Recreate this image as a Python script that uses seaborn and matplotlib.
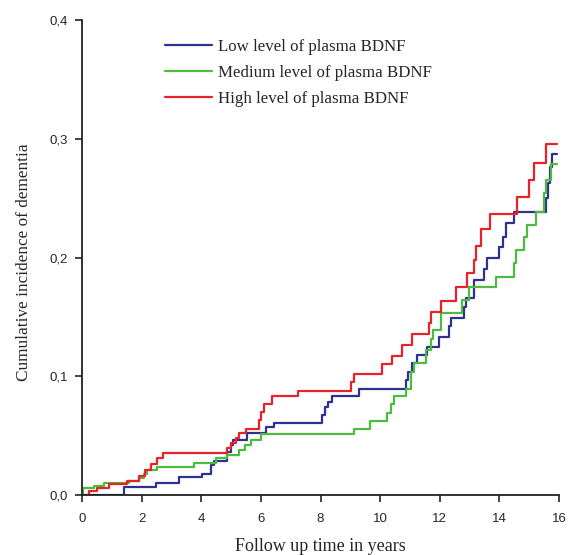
"""Cumulative incidence of dementia by plasma BDNF level (step curves)."""
import numpy as np
import pandas as pd
import matplotlib
matplotlib.use("Agg")
import matplotlib.pyplot as plt
from matplotlib.ticker import FuncFormatter
import seaborn as sns

sns.set_style("ticks")
plt.rcParams["font.family"] = ["Liberation Sans", "DejaVu Sans"]

# event times (years) and cumulative incidence after each event
low_t = [0, 1.41, 2.48, 3.25, 4.03, 4.33, 4.43, 4.87, 5.0, 5.07, 5.54, 6.17, 6.44,
         8.05, 8.15, 8.26, 8.39, 9.3, 10.87, 10.94, 11.07, 11.24, 11.58, 11.98,
         12.32, 12.38, 12.82, 12.89, 13.15, 13.49, 13.59, 13.99, 14.13, 14.23,
         14.5, 15.57, 15.64, 15.7, 15.77, 15.94]
low_y = [0, 0.007, 0.010, 0.015, 0.018, 0.025, 0.029, 0.036, 0.042, 0.046, 0.052,
         0.057, 0.061, 0.067, 0.074, 0.078, 0.083, 0.089, 0.097, 0.104, 0.111,
         0.118, 0.125, 0.133, 0.142, 0.149, 0.158, 0.166, 0.181, 0.190, 0.200,
         0.209, 0.217, 0.229, 0.238, 0.250, 0.263, 0.276, 0.287, 0.287]

med_t = [0, 0.03, 0.4, 0.74, 1.58, 1.91, 2.08, 2.18, 2.52, 3.76, 4.5, 4.85, 5.27,
         5.47, 5.67, 6.0, 9.13, 9.66, 10.23, 10.37, 10.47, 10.87, 11.04, 11.14,
         11.54, 11.71, 11.78, 12.05, 12.75, 12.99, 13.89, 14.5, 14.56, 14.83,
         14.93, 15.23, 15.5, 15.57, 15.74, 15.94]
med_y = [0, 0.006, 0.008, 0.010, 0.012, 0.014, 0.018, 0.021, 0.024, 0.027, 0.031,
         0.034, 0.038, 0.042, 0.046, 0.051, 0.056, 0.062, 0.069, 0.077, 0.083,
         0.089, 0.104, 0.111, 0.122, 0.131, 0.139, 0.153, 0.164, 0.175, 0.184,
         0.195, 0.206, 0.217, 0.227, 0.238, 0.254, 0.265, 0.279, 0.279]

high_t = [0, 0.23, 0.5, 0.9, 1.5, 1.9, 2.1, 2.3, 2.5, 2.7, 4.87, 5.0, 5.17, 5.27,
          5.5, 5.94, 6.0, 6.1, 6.38, 7.25, 9.03, 9.13, 10.07, 10.4, 10.74, 11.07,
          11.64, 11.71, 12.05, 12.55, 12.92, 13.15, 13.22, 13.39, 13.69, 14.6,
          15.0, 15.17, 15.57, 15.94]
high_y = [0, 0.003, 0.006, 0.009, 0.012, 0.016, 0.021, 0.026, 0.031, 0.035, 0.040,
          0.044, 0.048, 0.052, 0.056, 0.063, 0.070, 0.077, 0.083, 0.088, 0.095,
          0.102, 0.110, 0.117, 0.126, 0.136, 0.145, 0.154, 0.163, 0.175, 0.187,
          0.198, 0.210, 0.224, 0.237, 0.251, 0.265, 0.280, 0.296, 0.296]

groups = ["Low level of plasma BDNF", "Medium level of plasma BDNF",
          "High level of plasma BDNF"]
colors = ["#2e3192", "#4cbb3f", "#e8222a"]

df = pd.concat([
    pd.DataFrame({"time": low_t, "inc": low_y, "group": groups[0]}),
    pd.DataFrame({"time": med_t, "inc": med_y, "group": groups[1]}),
    pd.DataFrame({"time": high_t, "inc": high_y, "group": groups[2]}),
])

fig = plt.figure(figsize=(5.68, 5.55), dpi=100)
ax = fig.add_axes([0.1444, 0.108, 0.8398, 0.856])

sns.lineplot(data=df, x="time", y="inc", hue="group", palette=colors,
             estimator=None, sort=False, drawstyle="steps-post",
             linewidth=1.6, ax=ax)

ax.set_xlim(0, 16)
ax.set_ylim(0, 0.4)
ax.set_xticks(np.arange(0, 17, 2))
ax.set_yticks([0, 0.1, 0.2, 0.3, 0.4])
ax.yaxis.set_major_formatter(FuncFormatter(lambda v, p: f"{v:.1f}".replace(".", ",")))
ax.tick_params(axis="both", labelsize=9.5, length=5, width=1.2, color="#222222")
ax.tick_params(axis="x", pad=8)
ax.tick_params(axis="y", pad=5)
for s in ["left", "bottom"]:
    ax.spines[s].set_linewidth(1.3)
    ax.spines[s].set_color("#222222")
sns.despine(ax=ax)

serif = ["Liberation Serif", "DejaVu Serif"]
ax.set_xlabel("Follow up time in years", family=serif, fontsize=13, labelpad=9)
ax.set_ylabel("Cumulative incidence of dementia", family=serif, fontsize=12.4,
              labelpad=12)
ax.yaxis.set_label_coords(-0.105, 0.49)

leg = ax.legend(loc="upper left", bbox_to_anchor=(0.174, 0.96), frameon=False,
                handlelength=2.8, handletextpad=0.3, labelspacing=0.6,
                borderpad=0, borderaxespad=0,
                prop={"family": serif, "size": 12.2})
for line in leg.get_lines():
    line.set_linewidth(1.6)

fig.savefig("out.png", dpi=100)
